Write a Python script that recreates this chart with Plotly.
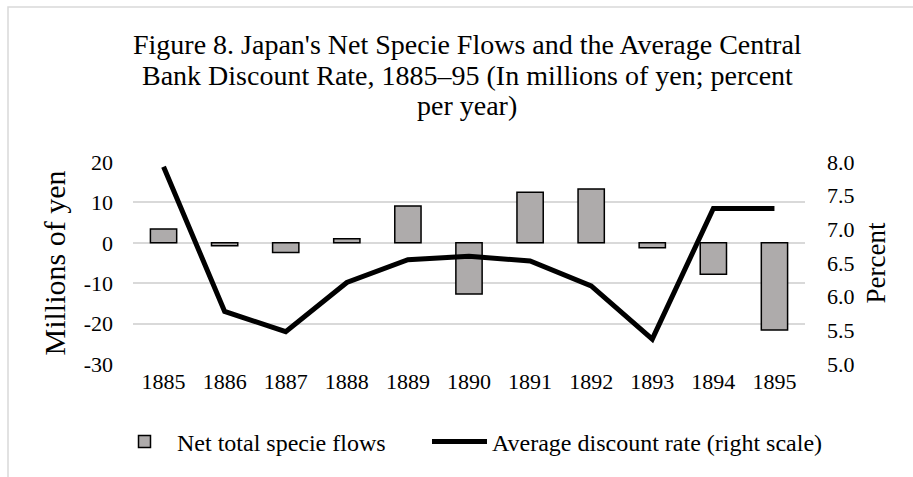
import plotly.graph_objects as go

years = ["1885", "1886", "1887", "1888", "1889", "1890", "1891", "1892", "1893", "1894", "1895"]
specie_flows = [3.4, -0.7, -2.4, 1.0, 9.1, -12.7, 12.5, 13.3, -1.2, -7.8, -21.6]
discount_rate = [7.93, 5.78, 5.48, 6.21, 6.55, 6.60, 6.53, 6.16, 5.37, 7.31, 7.31]

left_ticks = [20, 10, 0, -10, -20, -30]
right_ticks = [8.0, 7.5, 7.0, 6.5, 6.0, 5.5, 5.0]

title_lines = [
    "Figure 8. Japan's Net Specie Flows and the Average Central",
    "Bank Discount Rate, 1885–95 (In millions of yen; percent",
    "per year)",
]

W, H = 913, 477
ML, MR, MT, MB = 133, 108, 162, 113
FONT = "Liberation Serif, Times New Roman, serif"

fig = go.Figure()
fig.add_trace(go.Bar(
    x=years, y=specie_flows, name="Net total specie flows",
    marker=dict(color="#aeabab", line=dict(color="black", width=1.5)),
    width=0.43, yaxis="y", legend="legend", showlegend=True,
))
fig.add_trace(go.Scatter(
    x=years, y=discount_rate, name="Average discount rate (right scale)",
    mode="lines", line=dict(color="black", width=5), yaxis="y2", legend="legend2",
    showlegend=True,
))

pw = W - ML - MR
ph = H - MT - MB
def px_x(p):
    return (p - ML) / pw
def px_y(p):
    return (H - MB - p) / ph

annotations = []
for i, line in enumerate(title_lines):
    annotations.append(dict(
        text=line, xref="paper", yref="paper",
        x=px_x(467), y=px_y(45 + 30 * i), xanchor="center", yanchor="middle",
        showarrow=False, font=dict(family=FONT, size=28, color="black"),
    ))

legend_common = dict(
    orientation="h", xref="container", yref="container",
    y=1 - 442 / H, yanchor="middle", xanchor="left",
    font=dict(size=24), itemwidth=55, bgcolor="rgba(0,0,0,0)", visible=True,
)

fig.update_layout(
    width=W, height=H,
    showlegend=True,
    margin=dict(l=ML, r=MR, t=MT, b=MB, autoexpand=False),
    paper_bgcolor="white", plot_bgcolor="white",
    font=dict(family=FONT, size=22, color="black"),
    annotations=annotations,
    xaxis=dict(
        type="category", showgrid=False, zeroline=False, showline=False,
        ticks="", tickfont=dict(size=22), ticklabelstandoff=2,
    ),
    yaxis=dict(
        range=[-30, 20], tickvals=left_ticks, ticktext=[str(v) for v in left_ticks],
        showgrid=True, gridcolor="#d9d9d9", gridwidth=1.5,
        zeroline=False, showline=False, ticks="", ticklabelstandoff=19,
        title=dict(text="Millions of yen", font=dict(size=30), standoff=9),
    ),
    yaxis2=dict(
        overlaying="y", side="right", range=[5.0, 8.0],
        tickvals=right_ticks, ticktext=[f"{v:.1f}" for v in right_ticks],
        showgrid=False, zeroline=False, showline=False, ticks="", ticklabelstandoff=21,
        title=dict(text="Percent", font=dict(size=27), standoff=12),
    ),
    legend=dict(legend_common, x=112 / W),
    legend2=dict(legend_common, x=427 / W),
    shapes=[dict(
        type="rect", xref="paper", yref="paper",
        x0=px_x(8), x1=px_x(W + 10), y0=px_y(H + 10), y1=px_y(7),
        line=dict(color="#d9d9d9", width=1.5), fillcolor="rgba(0,0,0,0)", layer="below",
    )],
)

fig.write_html("out.html")
